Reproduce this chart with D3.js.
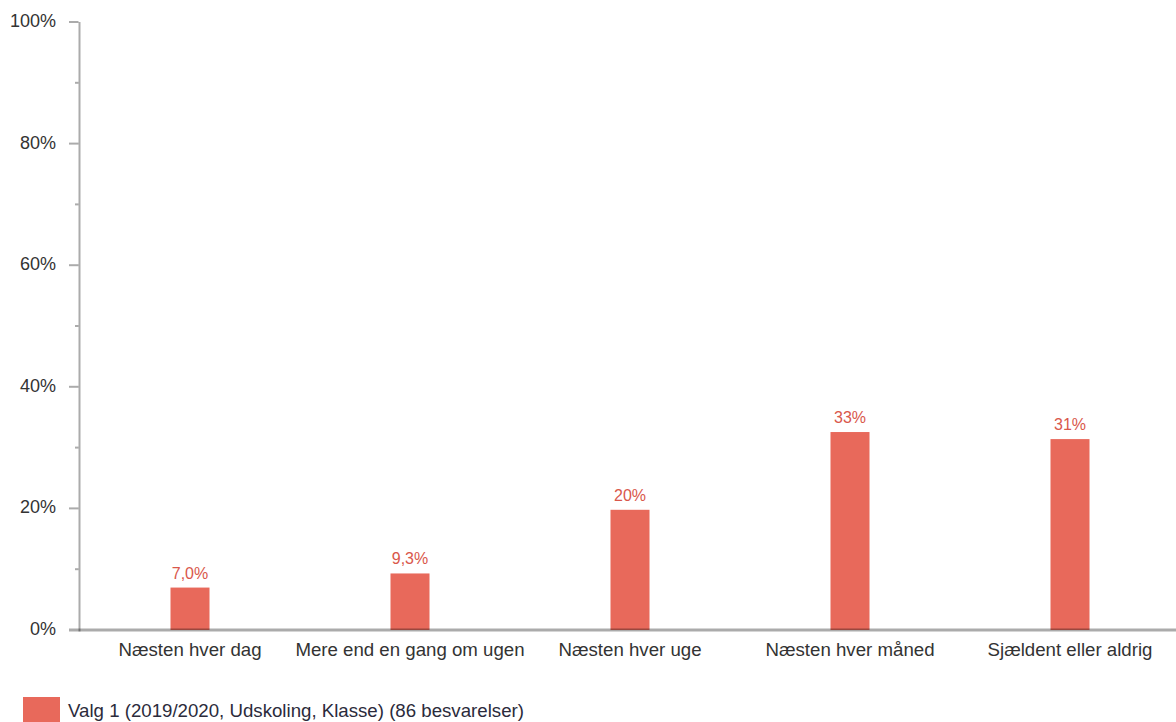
<!DOCTYPE html>
<html><head><meta charset="utf-8">
<script src="https://cdn.jsdelivr.net/npm/d3@7"></script>
<style>body{margin:0;background:#fff;} svg{display:block;font-family:"Liberation Sans",Arial,sans-serif;}</style>
</head><body>
<svg id="c" width="1176" height="722"></svg>
<script>
const categories = ["Næsten hver dag","Mere end en gang om ugen","Næsten hver uge","Næsten hver måned","Sjældent eller aldrig"];
const values = [6.98, 9.30, 19.77, 32.56, 31.40];
const valueLabels = ["7,0%","9,3%","20%","33%","31%"];
const yTicks = [0,20,40,60,80,100];
const yTickLabels = ["0%","20%","40%","60%","80%","100%"];
const minorTicks = [10,30,50,70,90];
const seriesName = "Valg 1 (2019/2020, Udskoling, Klasse) (86 besvarelser)";

const svg = d3.select("#c");
const x = d3.scaleBand().domain(categories).range([80,1180]);
const y = d3.scaleLinear().domain([0,100]).range([630,22]);
const barW = 39;
const barColor = "#e8695b";

svg.selectAll("rect.bar").data(values).enter().append("rect")
  .attr("x",(d,i)=>x(categories[i])+x.bandwidth()/2-barW/2)
  .attr("y",d=>y(d)).attr("width",barW).attr("height",d=>y(0)-y(d))
  .attr("fill",barColor);

svg.selectAll("text.vl").data(values).enter().append("text")
  .attr("x",(d,i)=>x(categories[i])+x.bandwidth()/2)
  .attr("y",d=>y(d)-9).attr("text-anchor","middle")
  .attr("font-size",16).attr("fill","#d9574b")
  .text((d,i)=>valueLabels[i]);

// y axis
const axisCol = "rgba(0,0,0,0.33)";
svg.append("line").attr("x1",79.5).attr("x2",79.5).attr("y1",y(100)).attr("y2",y(0)+1.5)
  .attr("stroke",axisCol).attr("stroke-width",2);
svg.selectAll("line.maj").data(yTicks.filter(d=>d>0)).enter().append("line")
  .attr("x1",69).attr("x2",78.5).attr("y1",d=>y(d)).attr("y2",d=>y(d))
  .attr("stroke",axisCol).attr("stroke-width",2);
svg.selectAll("line.min").data(minorTicks).enter().append("line")
  .attr("x1",75).attr("x2",78.5).attr("y1",d=>y(d)).attr("y2",d=>y(d))
  .attr("stroke",axisCol).attr("stroke-width",2);
svg.selectAll("text.yt").data(yTicks).enter().append("text")
  .attr("x",56).attr("y",d=>y(d)+5).attr("text-anchor","end")
  .attr("font-size",18).attr("fill","#333").text((d,i)=>yTickLabels[i]);

// x axis
svg.append("line").attr("x1",69).attr("x2",1176).attr("y1",y(0)).attr("y2",y(0))
  .attr("stroke",axisCol).attr("stroke-width",3);
svg.selectAll("text.xt").data(categories).enter().append("text")
  .attr("x",d=>x(d)+x.bandwidth()/2).attr("y",656).attr("text-anchor","middle")
  .attr("font-size",18.67).attr("fill","#333").text(d=>d);

// legend
svg.append("rect").attr("x",23).attr("y",697).attr("width",37).attr("height",25).attr("fill",barColor);
svg.append("text").attr("x",68).attr("y",717).attr("font-size",18.67).attr("fill","#2b2b3b").text(seriesName);
</script>
</body></html>
